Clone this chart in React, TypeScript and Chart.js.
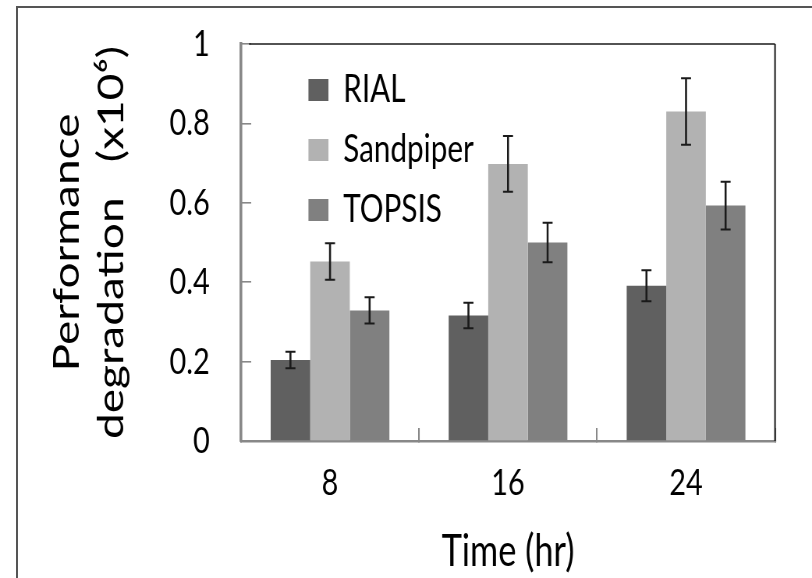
import React, { useEffect, useRef } from 'react';
import { Chart, registerables } from 'chart.js';

Chart.register(...registerables);

// ---------- data ----------
const categories = ['8', '16', '24'];
const seriesNames = ['RIAL', 'Sandpiper', 'TOPSIS'];
const rialValues = [0.204, 0.316, 0.391];
const sandpiperValues = [0.452, 0.698, 0.830];
const topsisValues = [0.329, 0.500, 0.593];
const rialErrors = [0.021, 0.032, 0.039];
const sandpiperErrors = [0.046, 0.070, 0.084];
const topsisErrors = [0.033, 0.050, 0.060];
const yTickLabels = ['0', '0.2', '0.4', '0.6', '0.8', '1'];
const yTitle = ['Performance', 'degradation   (x10\u2076)'];
const xTitle = 'Time (hr)';

// ---------- styles ----------
const seriesColors = ['#606060', '#b2b2b2', '#808080'];
const FONT = 'Lato';
const SCALE_X = 0.78; // horizontal squeeze of the reference
const CSS_W = 812;
const CSS_H = 578;
const LOGICAL_W = Math.round(CSS_W / SCALE_X);

export default function App() {
  const ref = useRef<HTMLCanvasElement>(null);

  useEffect(() => {
    const canvas = ref.current;
    if (!canvas) return;
    const lx = (px: number) => px / SCALE_X;

    const values = [rialValues, sandpiperValues, topsisValues];
    const errors = [rialErrors, sandpiperErrors, topsisErrors];

    const errorBars = {
      id: 'errorBars',
      afterDatasetsDraw(chart: any) {
        const ctx = chart.ctx;
        const yScale = chart.scales.y;
        ctx.save();
        ctx.strokeStyle = '#1a1a1a';
        chart.data.datasets.forEach((ds: any, i: number) => {
          const meta = chart.getDatasetMeta(i);
          meta.data.forEach((bar: any, j: number) => {
            const v = values[i][j];
            const e = errors[i][j];
            const yt = yScale.getPixelForValue(v + e);
            const yb = yScale.getPixelForValue(v - e);
            const x = bar.x;
            const half = lx(5);
            ctx.lineWidth = lx(2);
            ctx.beginPath();
            ctx.moveTo(x, yt);
            ctx.lineTo(x, yb);
            ctx.stroke();
            ctx.lineWidth = 2;
            ctx.beginPath();
            ctx.moveTo(x - half, yt);
            ctx.lineTo(x + half, yt);
            ctx.moveTo(x - half, yb);
            ctx.lineTo(x + half, yb);
            ctx.stroke();
          });
        });
        ctx.restore();
      },
    };

    const plotFrame = {
      id: 'plotFrame',
      afterDraw(chart: any) {
        const { ctx, chartArea } = chart;
        ctx.save();
        ctx.strokeStyle = '#1a1a1a';
        ctx.lineWidth = 1.6;
        ctx.beginPath();
        ctx.moveTo(chartArea.left + lx(8), chartArea.top);
        ctx.lineTo(chartArea.right, chartArea.top);
        ctx.stroke();
        ctx.lineWidth = lx(1.6);
        ctx.beginPath();
        ctx.moveTo(chartArea.right, chartArea.top);
        ctx.lineTo(chartArea.right, chartArea.bottom);
        ctx.stroke();
        ctx.restore();
      },
    };

    const legendPlace = {
      id: 'legendPlace',
      afterLayout(chart: any) {
        const lg = chart.legend;
        if (lg) {
          lg.left = lx(310) - 24;
          lg.top = 71 - 22;
        }
      },
    };

    const chart = new Chart(canvas, {
      type: 'bar',
      data: {
        labels: categories,
        datasets: seriesNames.map((name, i) => ({
          label: name,
          data: values[i],
          backgroundColor: seriesColors[i],
          borderWidth: 0,
          categoryPercentage: 0.667,
          barPercentage: 1.0,
        })),
      },
      options: {
        responsive: false,
        animation: false,
        devicePixelRatio: 1,
        layout: {
          autoPadding: false,
          padding: { left: 0, top: 44, right: LOGICAL_W - lx(775), bottom: 0 },
        },
        plugins: {
          tooltip: { enabled: false },
          legend: {
            position: 'chartArea' as any,
            align: 'start',
            labels: {
              boxWidth: lx(20),
              boxHeight: 22,
              padding: 22,
              color: '#000',
              font: { family: FONT, size: 38 },
            },
          },
        },
        scales: {
          x: {
            offset: true,
            grid: {
              offset: true,
              drawOnChartArea: false,
              drawTicks: true,
              tickLength: -13,
              color: '#888',
              lineWidth: lx(1.6),
            },
            border: { color: '#888', width: 2.5 },
            ticks: {
              color: '#000',
              padding: 33,
              font: { family: FONT, size: 37 },
            },
            title: {
              display: true,
              text: xTitle,
              color: '#000',
              font: { family: FONT, size: 44, lineHeight: 1.2 },
              padding: { top: 0, bottom: 0 },
            },
            afterFit(scale: any) {
              scale.height = CSS_H - 441;
              scale.paddingLeft = 0;
              scale.paddingRight = 0;
            },
          },
          y: {
            min: 0,
            max: 1,
            ticks: {
              stepSize: 0.2,
              color: '#000',
              padding: 53,
              font: { family: FONT, size: 37 },
              callback: (_v: any, i: number) => yTickLabels[i],
            },
            grid: {
              drawOnChartArea: false,
              drawTicks: true,
              tickLength: -13,
              color: '#888',
              lineWidth: 1.6,
            },
            border: { color: '#888', width: lx(2.8) },
            title: {
              display: true,
              text: yTitle,
              color: '#000',
              font: { family: FONT, size: 46, lineHeight: 1.254 },
              padding: { top: 57, bottom: 0 },
            },
            afterFit(scale: any) {
              scale.width = lx(241);
              scale.paddingTop = 0;
              scale.paddingBottom = 0;
            },
          },
        },
      },
      plugins: [errorBars, plotFrame, legendPlace],
    });

    return () => chart.destroy();
  }, []);

  return (
    <div
      style={{
        position: 'fixed',
        left: 0,
        top: 0,
        width: CSS_W,
        height: CSS_H,
        overflow: 'hidden',
        background: '#fff',
      }}
    >
      <div
        style={{
          position: 'absolute',
          left: 16,
          top: 6,
          width: 900,
          height: 700,
          borderLeft: '2px solid #555',
          borderTop: '2px solid #555',
        }}
      />
      <canvas
        ref={ref}
        width={LOGICAL_W}
        height={CSS_H}
        style={{ position: 'absolute', left: 0, top: 0, width: CSS_W + 'px', height: CSS_H + 'px' }}
      />
    </div>
  );
}
